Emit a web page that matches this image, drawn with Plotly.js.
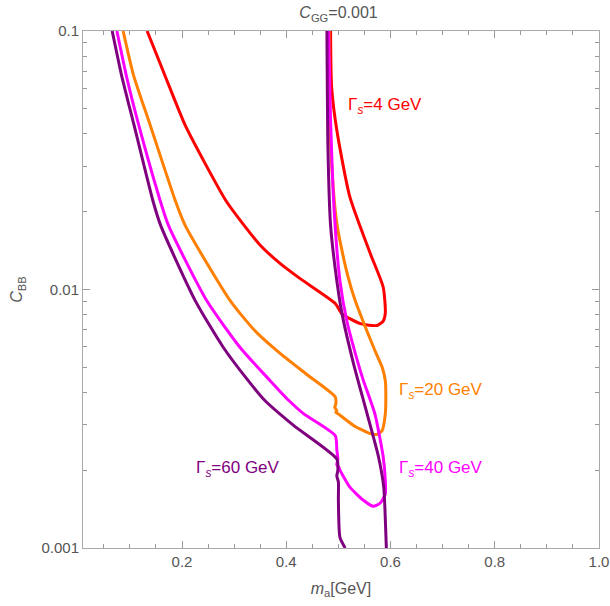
<!DOCTYPE html>
<html>
<head>
<meta charset="utf-8">
<script src="https://cdn.plot.ly/plotly-3.0.1.min.js"></script>
<style>html,body{margin:0;padding:0;background:#fff;}#chart{width:610px;height:606px;}</style>
</head>
<body>
<div id="chart"></div>
<script>
// ---- data ----
const redX = [0.133, 0.167, 0.206, 0.247, 0.284, 0.321, 0.350, 0.388, 0.426, 0.494, 0.507, 0.542, 0.574, 0.586, 0.590, 0.586, 0.561, 0.522, 0.497, 0.487, 0.485];
const redY = [0.1, 0.0674, 0.0432, 0.0300, 0.0221, 0.0175, 0.01483, 0.01262, 0.01104, 0.00883, 0.00805, 0.00738, 0.00726, 0.00755, 0.00810, 0.0102, 0.0138, 0.0228, 0.0413, 0.0607, 0.1];

const orangeX = [0.087, 0.107, 0.139, 0.187, 0.206, 0.292, 0.340, 0.390, 0.440, 0.494, 0.495, 0.493, 0.497, 0.495, 0.500, 0.529, 0.561, 0.574, 0.584, 0.590, 0.591, 0.590, 0.584, 0.570, 0.550, 0.532, 0.518, 0.507, 0.497, 0.490, 0.483, 0.482];
const orangeY = [0.1, 0.0674, 0.0432, 0.0221, 0.0177, 0.00908, 0.00692, 0.00562, 0.00468, 0.00384, 0.0036, 0.0035, 0.0034, 0.00335, 0.0033, 0.00298, 0.00277, 0.00275, 0.00285, 0.0033, 0.0038, 0.00444, 0.0050, 0.00581, 0.0073, 0.00908, 0.0113, 0.0141, 0.018, 0.0249, 0.0452, 0.1];

const magentaX = [0.075, 0.093, 0.117, 0.158, 0.174, 0.247, 0.311, 0.369, 0.405, 0.433, 0.494, 0.497, 0.499, 0.497, 0.501, 0.503, 0.522, 0.548, 0.567, 0.580, 0.590, 0.590, 0.586, 0.570, 0.548, 0.538, 0.516, 0.503, 0.492, 0.485, 0.481];
const magentaY = [0.1, 0.0674, 0.0432, 0.0221, 0.0177, 0.00908, 0.00598, 0.00444, 0.00372, 0.00331, 0.00272, 0.0024, 0.0022, 0.0021, 0.00205, 0.0020, 0.00172, 0.00153, 0.00145, 0.00149, 0.00162, 0.00182, 0.00225, 0.0033, 0.00444, 0.00517, 0.00759, 0.0108, 0.020, 0.045, 0.1];

const purpleLeftX = [0.066, 0.084, 0.108, 0.144, 0.159, 0.225, 0.279, 0.327, 0.359, 0.414, 0.497, 0.499, 0.497, 0.500, 0.500, 0.503, 0.513];
const purpleLeftY = [0.1, 0.0674, 0.0432, 0.0221, 0.0177, 0.00908, 0.00598, 0.00444, 0.00372, 0.00298, 0.00221, 0.0020, 0.0019, 0.0018, 0.00153, 0.0011, 0.001];

const purpleRightX = [0.592, 0.590, 0.587, 0.577, 0.555, 0.529, 0.507, 0.497, 0.485, 0.480, 0.478];
const purpleRightY = [0.001, 0.0013, 0.00172, 0.00225, 0.00331, 0.00517, 0.00805, 0.0108, 0.0177, 0.035, 0.1];

const xTicks = [0.2, 0.4, 0.6, 0.8, 1.0];
const xTickText = ['0.2', '0.4', '0.6', '0.8', '1.0'];
const yTicks = [0.001, 0.01, 0.1];
const yTickText = ['0.001', '0.01', '0.1'];

const labels = [
  {text: 'Γ<sub><i>s</i></sub>=4 GeV', x: 0.590, y: 0.0515, color: '#FF0000'},
  {text: 'Γ<sub><i>s</i></sub>=20 GeV', x: 0.697, y: 0.00404, color: '#FF7F00'},
  {text: 'Γ<sub><i>s</i></sub>=40 GeV', x: 0.697, y: 0.00203, color: '#FF00FF'},
  {text: 'Γ<sub><i>s</i></sub>=60 GeV', x: 0.308, y: 0.00203, color: '#7F007F'}
];

// ---- build ----
const lw = 3;
function tr(x, y, c) {
  return {x: x, y: y, type: 'scatter', mode: 'lines', line: {color: c, width: lw, shape: 'spline', smoothing: 0.6}, hoverinfo: 'skip', showlegend: false};
}
const traces = [
  tr(redX, redY, '#FF0000'),
  tr(orangeX, orangeY, '#FF7F00'),
  tr(magentaX, magentaY, '#FF00FF'),
  tr(purpleLeftX, purpleLeftY, '#7F007F'),
  tr(purpleRightX, purpleRightY, '#7F007F')
];

const minorY = [];
for (let d = -3; d < -1; d++) for (let k = 2; k <= 9; k++) minorY.push(k * Math.pow(10, d));
const minorX = [];
for (let v = 0.05; v < 1.0; v += 0.05) minorX.push(Math.round(v * 100) / 100);

const grey = '#555555';
const font = 'Arial, "Liberation Sans", sans-serif';

const layout = {
  width: 610, height: 606,
  margin: {l: 83, r: 11, t: 31, b: 58},
  paper_bgcolor: '#fff', plot_bgcolor: '#fff',
  font: {family: font, color: grey, size: 15},
  title: {text: '<i>C</i><sub>GG</sub>=0.001', x: 0.555, xanchor: 'center', y: 0.988, yanchor: 'top', font: {size: 16, color: grey, family: font}},
  xaxis: {
    range: [0.01, 1.0], tickvals: xTicks, ticktext: xTickText,
    ticks: 'inside', ticklen: 7, tickcolor: '#999', mirror: 'ticks', showline: true, linecolor: '#aaa', linewidth: 1,
    showgrid: false, zeroline: false,
    minor: {tickvals: minorX, ticks: 'inside', ticklen: 4, tickcolor: '#999', showgrid: false},
    tickfont: {size: 15, color: grey},
    title: {text: '<i>m</i><sub>a</sub>[GeV]', font: {size: 16, color: grey}, standoff: 13}
  },
  yaxis: {
    type: 'log', range: [-3, -1], tickvals: yTicks, ticktext: yTickText,
    ticks: 'inside', ticklen: 7, tickcolor: '#999', mirror: 'ticks', showline: true, linecolor: '#aaa', linewidth: 1,
    showgrid: false, zeroline: false,
    minor: {tickvals: minorY, ticks: 'inside', ticklen: 4, tickcolor: '#999', showgrid: false},
    tickfont: {size: 15, color: grey},
    title: {text: '<i>C</i><sub>BB</sub>', font: {size: 16, color: grey}, standoff: 14}
  },
  annotations: labels.map(l => ({
    text: l.text, x: l.x, y: Math.log10(l.y), xref: 'x', yref: 'y',
    showarrow: false, xanchor: 'center', yanchor: 'middle',
    font: {size: 17, color: l.color, family: font}
  }))
};

Plotly.newPlot('chart', traces, layout, {displayModeBar: false, staticPlot: true});
</script>
</body>
</html>
